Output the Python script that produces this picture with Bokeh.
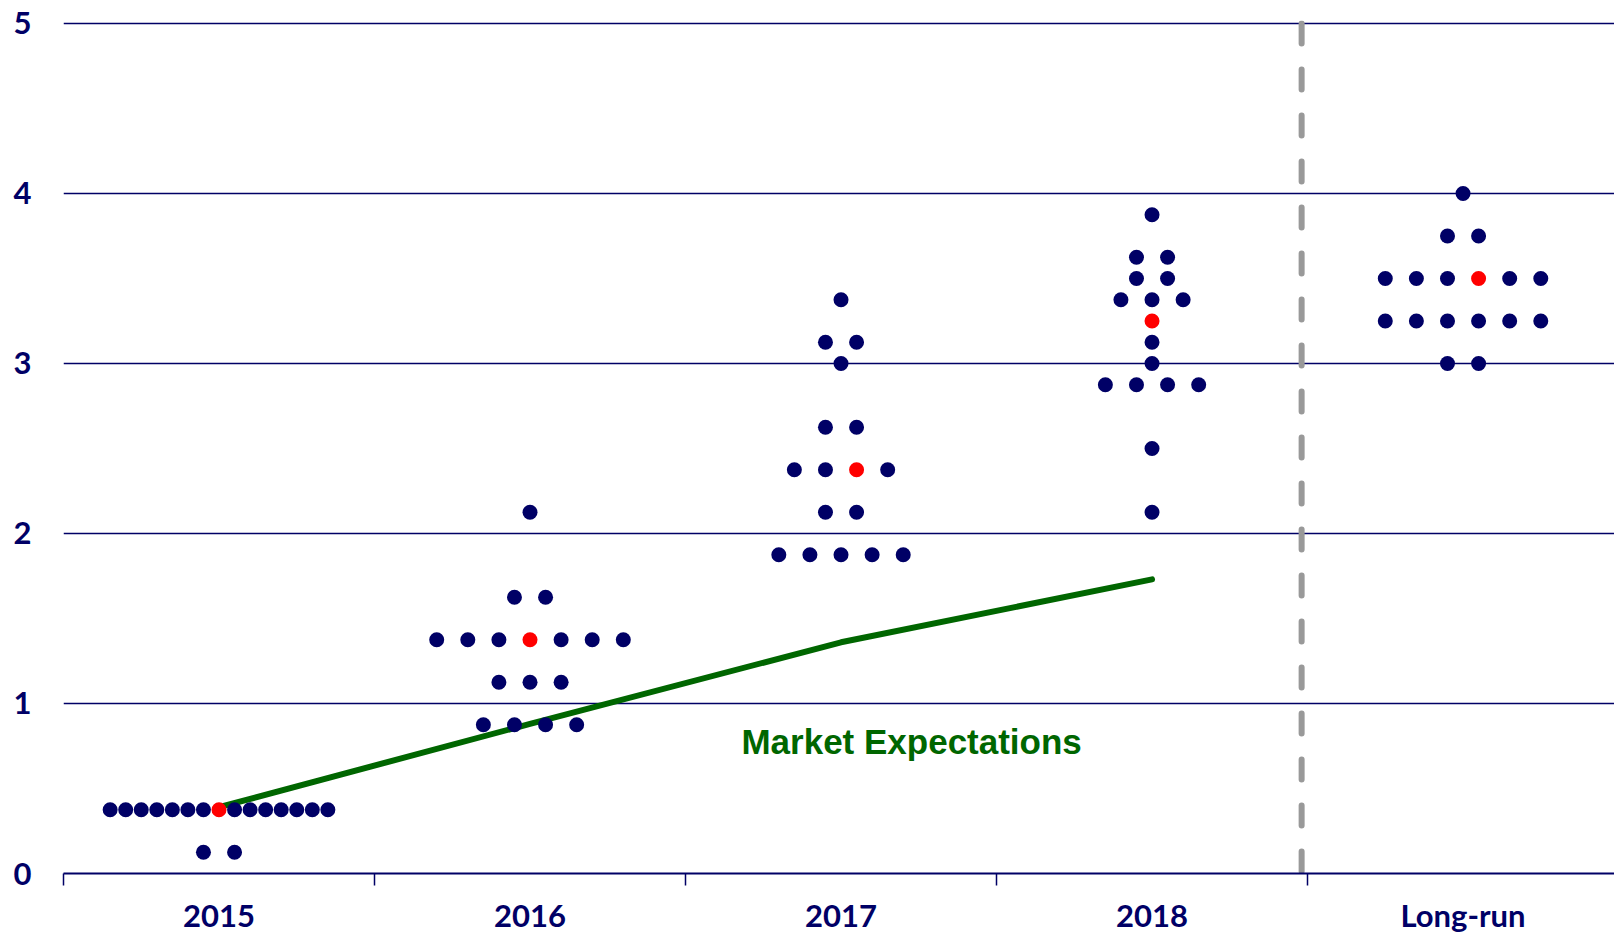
from bokeh.plotting import figure
from bokeh.models import Range1d, FixedTicker
from bokeh.core.properties import value
from bokeh.embed import file_html
from bokeh.resources import INLINE

# ---- data (FOMC projections dot plot) ----
categories = ["2015", "2016", "2017", "2018", "Long-run"]

rates_2015 = [0.125, 0.375]
counts_2015 = [2, 15]
rates_2016 = [0.875, 1.125, 1.375, 1.625, 2.125]
counts_2016 = [4, 3, 7, 2, 1]
rates_2017 = [1.875, 2.125, 2.375, 2.625, 3.0, 3.125, 3.375]
counts_2017 = [5, 2, 4, 2, 1, 2, 1]
rates_2018 = [2.125, 2.5, 2.875, 3.0, 3.125, 3.25, 3.375, 3.5, 3.625, 3.875]
counts_2018 = [1, 1, 4, 1, 1, 1, 3, 2, 2, 1]
rates_longrun = [3.0, 3.25, 3.5, 3.75, 4.0]
counts_longrun = [2, 6, 6, 2, 1]

median_rates = [0.375, 1.375, 2.375, 3.25, 3.5]
median_slot = [7, 3, 2, 0, 3]  # which dot in the median row is the median

market_years = ["2015", "2016", "2017", "2018"]
market_expectations = [0.39, 0.88, 1.36, 1.73]
market_label = "Market Expectations"

y_ticks = [0, 1, 2, 3, 4, 5]

# ---- styling ----
NAVY = "#000066"
RED = "#ff0000"
GREEN = "#006600"
GREY = "#999999"
AXIS_FONT = "Lato"

all_rates = [rates_2015, rates_2016, rates_2017, rates_2018, rates_longrun]
all_counts = [counts_2015, counts_2016, counts_2017, counts_2018, counts_longrun]

navy_x, navy_y, red_x, red_y = [], [], [], []
for ci, (rs, cs) in enumerate(zip(all_rates, all_counts)):
    center = ci + 0.5
    for r, n in zip(rs, cs):
        step = 0.05 if n > 9 else 0.1
        for k in range(n):
            x = center + (k - (n - 1) / 2) * step
            if r == median_rates[ci] and k == median_slot[ci]:
                red_x.append(x)
                red_y.append(r)
            else:
                navy_x.append(x)
                navy_y.append(r)

p = figure(width=1614, height=936,
           x_range=Range1d(0, 4.987), y_range=Range1d(0, 5.0176),
           output_backend="svg", toolbar_location=None,
           min_border_left=63, min_border_right=0,
           min_border_top=20, min_border_bottom=63)
p.outline_line_color = None
p.background_fill_color = "white"
p.border_fill_color = "white"

# grid
p.xgrid.visible = False
p.ygrid.ticker = FixedTicker(ticks=y_ticks)
p.ygrid.grid_line_color = NAVY
p.ygrid.grid_line_width = 1.3

# y axis
p.yaxis.ticker = FixedTicker(ticks=y_ticks)
p.yaxis.axis_line_color = None
p.yaxis.major_tick_line_color = None
p.yaxis.minor_tick_line_color = None
p.yaxis.major_tick_out = 0
p.yaxis.major_tick_in = 0
p.yaxis.major_label_standoff = 32
p.yaxis.major_label_text_font = AXIS_FONT
p.yaxis.major_label_text_font_style = "bold"
p.yaxis.major_label_text_font_size = "31px"
p.yaxis.major_label_text_color = NAVY

# x axis: labels centered in each category, small ticks at boundaries
centers = [i + 0.5 for i in range(len(categories))]
bounds = list(range(len(categories) + 1))
p.xaxis.ticker = FixedTicker(ticks=centers, minor_ticks=bounds)
p.xaxis.major_label_overrides = {c: lab for c, lab in zip(centers, categories)}
p.xaxis.major_tick_line_color = None
p.xaxis.major_tick_out = 0
p.xaxis.major_tick_in = 0
p.xaxis.minor_tick_line_color = NAVY
p.xaxis.minor_tick_line_width = 1.5
p.xaxis.minor_tick_out = 12
p.xaxis.minor_tick_in = 0
p.xaxis.axis_line_color = NAVY
p.xaxis.axis_line_width = 2
p.xaxis.major_label_standoff = 10
p.xaxis.major_label_text_font = AXIS_FONT
p.xaxis.major_label_text_font_style = "bold"
p.xaxis.major_label_text_font_size = "31px"
p.xaxis.major_label_text_color = NAVY

# market expectations line
market_x = [categories.index(y) + 0.5 for y in market_years]
p.line(market_x, market_expectations, line_color=GREEN, line_width=6, line_cap="round")

# separator between projections and long-run
sep_x = 3.981
p.line([sep_x, sep_x], [y_ticks[-1], y_ticks[0]], line_color=GREY, line_width=6,
       line_dash="20 26", line_cap="round")

# dots
p.scatter(navy_x, navy_y, size=15, fill_color=NAVY, line_color=None)
p.scatter(red_x, red_y, size=15, fill_color=RED, line_color=None)

# label
p.text(x=[2.727], y=[0.778], text=[market_label], text_font=value("Liberation Sans"),
       text_font_style="bold", text_font_size="35px", text_color=GREEN,
       text_align="center", text_baseline="alphabetic")

open("out.html", "w").write(file_html(p, INLINE))
